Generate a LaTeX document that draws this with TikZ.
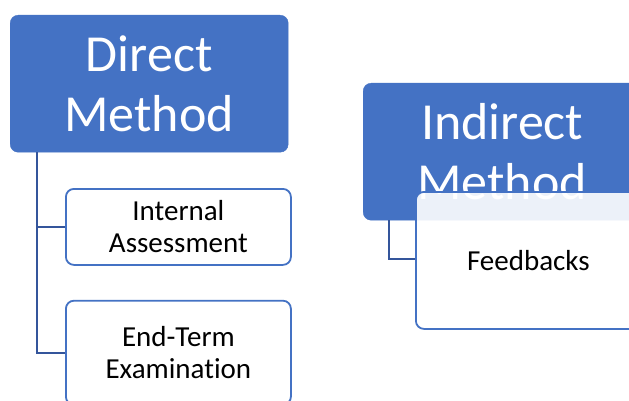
\documentclass[tikz,border=0pt]{standalone}
\usepackage{fontspec}
\setmainfont[Ligatures={NoCommon,NoContextual},RawFeature={-liga;-clig;-calt}]{Carlito}
\usetikzlibrary{positioning}
\definecolor{methodblue}{RGB}{68,114,196}
\definecolor{linkblue}{RGB}{52,85,155}
\tikzset{
  methodbox/.style={rounded corners=8pt, fill=methodblue, draw=methodblue, text=white,
    minimum width=278pt, minimum height=137pt, inner sep=0pt, align=center,
    font=\fontsize{52}{60}\selectfont},
  itembox/.style={rounded corners=8pt, fill=white, draw=methodblue, line width=1.8pt,
    minimum width=225pt, inner sep=0pt, align=center,
    font=\fontsize{29}{32}\selectfont},
  link/.style={draw=linkblue, line width=2.4pt}
}
\begin{document}
\begin{tikzpicture}[x=1pt,y=-1pt]
  \clip (0,0) rectangle (629,401);
  \fill[white] (0,0) rectangle (629,401);

  \node[methodbox, anchor=north west] (direct) at (10,15) {Direct\\Method};
  \node[itembox, minimum height=76pt, anchor=north west] (internal) at (65,188) {Internal\\Assessment};
  \node[itembox, minimum height=104pt, below=34pt of internal] (endterm) {End-Term\\Examination};

  %direct>items
  \draw[link] (direct.south west -| 37,0) |- (internal.west);
  \draw[link] (direct.south west -| 37,0) |- (endterm.west);

  \node[methodbox, anchor=north west] (indirect) at (363,83) {Indirect\\Method};

  %indirect>feedbacks
  \coordinate (fbturn) at (389,259);
  \draw[link] (indirect.south west -| fbturn) -- (fbturn) -- (415,259);
  \node[itembox, fill opacity=0.9, text opacity=1, minimum height=137pt, anchor=north west] (feedbacks) at (415,191) {Feedbacks};
\end{tikzpicture}
\end{document}
